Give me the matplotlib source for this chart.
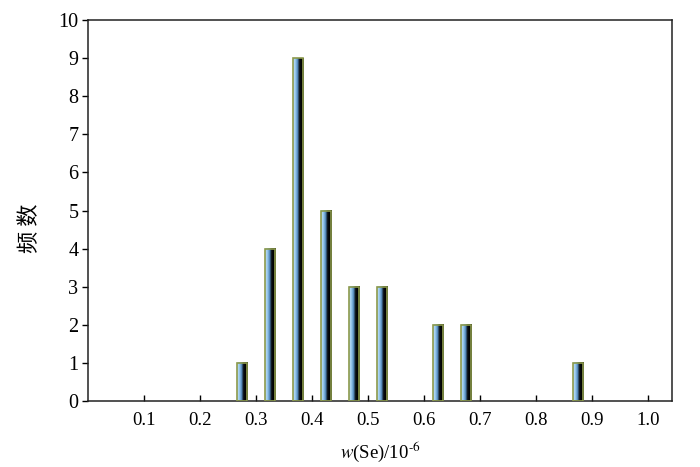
import matplotlib.pyplot as plt
import numpy as np
from matplotlib.colors import LinearSegmentedColormap

plt.rcParams['font.family'] = ['Liberation Serif', 'Noto Sans CJK SC']
plt.rcParams['mathtext.fontset'] = 'stix'

# bin centres (w(Se), 10^-6) and counts
centers = [0.275, 0.325, 0.375, 0.425, 0.475, 0.525, 0.625, 0.675, 0.875]
counts = [1, 4, 9, 5, 3, 3, 2, 2, 1]
xticks = [0.1, 0.2, 0.3, 0.4, 0.5, 0.6, 0.7, 0.8, 0.9, 1.0]
xticklabels = ['0.1', '0.2', '0.3', '0.4', '0.5', '0.6', '0.7', '0.8', '0.9', '1.0']

fig = plt.figure(figsize=(7, 4.67), dpi=100)
ax = fig.add_axes([88 / 700, 1 - 401 / 467, 584 / 700, 381 / 467])

width = 0.018
bars = ax.bar(centers, counts, width=width, color='none',
              edgecolor='#8c9a4c', linewidth=1.2, zorder=3)

# light blue -> black gradient inside each bar
cmap = LinearSegmentedColormap.from_list(
    'barfill', ['#c6e4f8', '#9ccbee', '#5c95c8', '#0a0f14', '#000000', '#000000'])
grad = np.linspace(0, 1, 64).reshape(1, -1)
for b in bars:
    x0, y0 = b.get_x(), b.get_y()
    ax.imshow(grad, cmap=cmap, aspect='auto', zorder=2,
              extent=[x0, x0 + b.get_width(), y0, y0 + b.get_height()])

ax.set_xlim(0, 1.043)
ax.set_ylim(0, 10)
ax.set_yticks(range(0, 11))
ax.set_xticks(xticks)
ax.set_xticklabels(xticklabels)

ax.tick_params(axis='x', direction='in', length=4, width=1, labelsize=13.5, pad=8)
ax.tick_params(axis='y', direction='out', length=4, width=1, labelsize=14.5, pad=3)
for s in ax.spines.values():
    s.set_linewidth(1.1)
    s.set_color('#222222')

ax.set_xlabel(r'$w$(Se)/10$^{\text{-6}}$', fontsize=13.5, labelpad=7)
ax.set_ylabel('频 数', fontsize=16, family=['Noto Sans CJK SC'])
ax.yaxis.set_label_coords(-0.08, 0.454)

plt.savefig('out.png', dpi=100)
